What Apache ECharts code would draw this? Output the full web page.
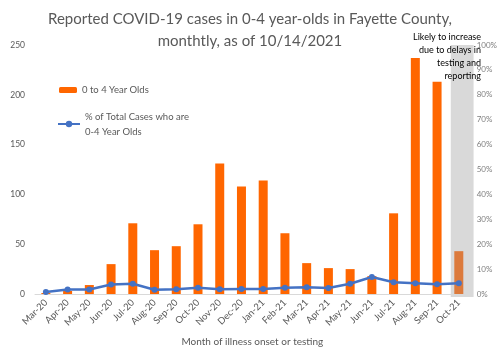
<!DOCTYPE html>
<html><head><meta charset="utf-8">
<script src="https://cdn.jsdelivr.net/npm/echarts@6/dist/echarts.min.js"></script>
<style>html,body{margin:0;padding:0;background:#fff}#c{width:500px;height:357px}</style>
</head><body><div id="c"></div>
<script>
const months = ['Mar-20','Apr-20','May-20','Jun-20','Jul-20','Aug-20','Sep-20','Oct-20','Nov-20','Dec-20','Jan-21','Feb-21','Mar-21','Apr-21','May-21','Jun-21','Jul-21','Aug-21','Sep-21','Oct-21'];
const cases = [1,3,9,30,71,44,48,70,131,108,114,61,31,26,25,18,81,237,213,43];
const pct = [0.8,1.8,1.8,3.8,4.1,1.7,1.9,2.5,1.9,2.0,2.0,2.5,2.7,2.4,4.1,6.8,4.7,4.3,3.9,4.3];
const leftTicks = {min:0, max:250, interval:50};
const rightTicks = {min:0, max:100, interval:10};
const titleLines = ['Reported COVID-19 cases in 0-4 year-olds in Fayette County,','monthtly, as of 10/14/2021'];
const noteLines = ['Likely to increase','due to delays in','testing and','reporting'];
const barName = '0 to 4 Year Olds';
const lineName = '% of Total Cases who are\n0-4 Year Olds';
const shadedMonth = 'Oct-21';

const FONT = 'Lato';
const GRAY = '#595959';
const chart = echarts.init(document.getElementById('c'), null, {renderer:'canvas'});
const lastIdx = months.indexOf(shadedMonth);
const baseGraphics = [
  {type:'text', left:'center', top:8, z:100, style:{text:titleLines.join('\n'), font:'15px '+FONT, fill:GRAY, textAlign:'center', lineHeight:22}},
  {type:'text', right:19, top:31, z:100, style:{text:noteLines.join('\n'), font:'9px '+FONT, fill:'#000', textAlign:'right', lineHeight:13}}
];
chart.setOption({
  animation:false,
  textStyle:{fontFamily:FONT},
  grid:{left:35, right:22, top:45, bottom:63, containLabel:false},
  legend:[
    {data:[barName], left:54, top:80, orient:'vertical', itemWidth:18, itemHeight:6,
     textStyle:{fontFamily:FONT, fontSize:9.5, color:GRAY}, itemGap:6},
    {data:[lineName], left:52, top:104, orient:'vertical', itemWidth:22, itemHeight:8,
     textStyle:{fontFamily:FONT, fontSize:9.5, color:GRAY, lineHeight:15}}
  ],
  xAxis:{type:'category', data:months, boundaryGap:true,
    axisLine:{lineStyle:{color:'#D9D9D9', width:1}}, axisTick:{show:false},
    axisLabel:{rotate:45, interval:0, fontSize:9.5, color:GRAY, fontFamily:FONT, margin:7},
    name:'Month of illness onset or testing', nameLocation:'middle', nameGap:43,
    nameTextStyle:{fontSize:10, color:GRAY, fontFamily:FONT}},
  yAxis:[
    {type:'value', min:leftTicks.min, max:leftTicks.max, interval:leftTicks.interval,
     splitLine:{show:false}, axisLine:{show:false}, axisTick:{show:false},
     axisLabel:{fontSize:8.5, color:GRAY, fontFamily:FONT, margin:10}},
    {type:'value', min:rightTicks.min, max:rightTicks.max, interval:rightTicks.interval,
     splitLine:{show:false}, axisLine:{show:false}, axisTick:{show:false},
     axisLabel:{fontSize:8, color:'#7f7f7f', fontFamily:FONT, margin:7, formatter:'{value}%'}}
  ],
  series:[
    {name:barName, type:'bar', barWidth:9, z:2,
     itemStyle:{color:'#FF6600'},
     data:cases.map((v,i)=> i===lastIdx ? {value:v, itemStyle:{color:'#DC7A3C'}} : v)},
    {name:lineName, type:'line', yAxisIndex:1, z:3, data:pct,
     symbol:'circle', symbolSize:6, itemStyle:{color:'#4472C4'}, lineStyle:{color:'#4472C4', width:2.5}}
  ],
  graphic:baseGraphics
});
// shaded band behind the last (incomplete) month, placed through the axis scale
const cx = chart.convertToPixel({xAxisIndex:0}, shadedMonth);
const yTop = chart.convertToPixel({yAxisIndex:0}, leftTicks.max);
const yBot = chart.convertToPixel({yAxisIndex:0}, leftTicks.min);
const band = chart.getModel().getComponent('xAxis',0).axis.getBandWidth();
chart.setOption({graphic:baseGraphics.concat([
  {type:'rect', z:-1, shape:{x:cx-band*0.37, y:yTop, width:band*1.05, height:(yBot-yTop)+3}, style:{fill:'#D9D9D9'}}
])});
</script></body></html>
